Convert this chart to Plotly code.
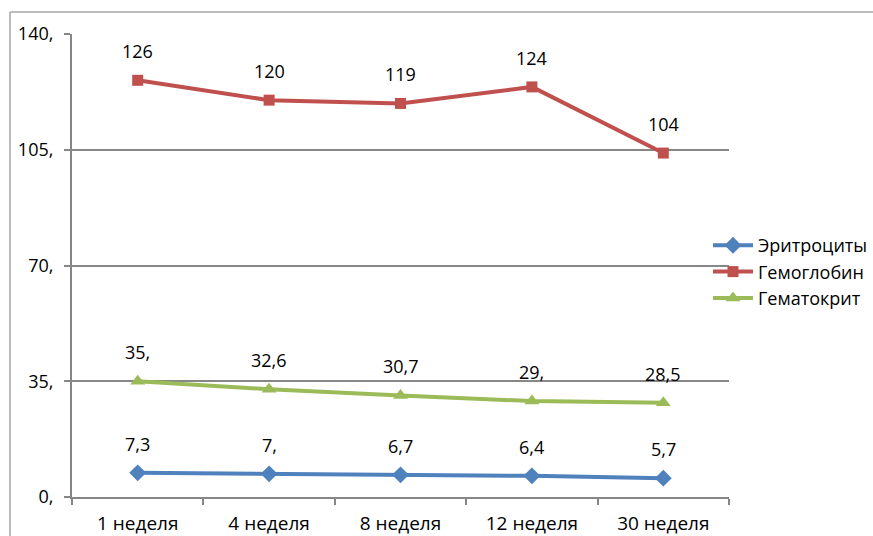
import plotly.graph_objects as go

categories = ["1 неделя", "4 неделя", "8 неделя", "12 неделя", "30 неделя"]
erythro = [7.3, 7.0, 6.7, 6.4, 5.7]
erythro_labels = ["7,3", "7,", "6,7", "6,4", "5,7"]
hemo = [126, 120, 119, 124, 104]
hemo_labels = ["126", "120", "119", "124", "104"]
hemat = [35.0, 32.6, 30.7, 29.0, 28.5]
hemat_labels = ["35,", "32,6", "30,7", "29,", "28,5"]
y_ticks = [0, 35, 70, 105, 140]
y_tick_text = ["0,", "35,", "70,", "105,", "140,"]

FONT = "'Open Sans', sans-serif"
W, H = 873, 536
ML, MR, MT, MB = 72, 144, 34, 39
PW, PH = W - ML - MR, H - MT - MB

series = [
    ("Эритроциты", erythro, erythro_labels, "#4F81BD", "diamond", 13),
    ("Гемоглобин", hemo, hemo_labels, "#C0504D", "square", 11),
    ("Гематокрит", hemat, hemat_labels, "#9BBB59", "triangle-up", 13),
]

fig = go.Figure()
annotations = []
for name, vals, labels, color, sym, size in series:
    fig.add_trace(go.Scatter(
        x=categories, y=vals, name=name, mode="lines+markers",
        line=dict(color=color, width=4),
        marker=dict(symbol=sym, size=size, color=color),
    ))
    for c, v, t in zip(categories, vals, labels):
        annotations.append(dict(x=c, y=v, text=t, showarrow=False, yshift=29,
                                font=dict(family=FONT, size=18, color="#000")))

shapes = [
    dict(type="line", xref="paper", yref="paper",
         x0=(10 - ML) / PW, x1=1.3, y0=1 + (MT - 12) / PH, y1=1 + (MT - 12) / PH,
         line=dict(color="#A6A6A6", width=1.5)),
    dict(type="line", xref="paper", yref="paper",
         x0=(10 - ML) / PW, x1=(10 - ML) / PW, y0=1 + (MT - 12) / PH, y1=-0.2,
         line=dict(color="#A6A6A6", width=1.5)),
]

fig.update_layout(
    width=W, height=H,
    margin=dict(l=ML, r=MR, t=MT, b=MB, autoexpand=False),
    paper_bgcolor="white", plot_bgcolor="white",
    font=dict(family=FONT, size=18, color="#000"),
    annotations=annotations, shapes=shapes,
    showlegend=True,
    legend=dict(x=(708 - ML) / PW, xanchor="left", y=(497 - 272) / PH, yanchor="middle",
                font=dict(family=FONT, size=18, color="#000"),
                tracegroupgap=0, itemwidth=40, bgcolor="rgba(0,0,0,0)"),
    xaxis=dict(type="category", showgrid=False, showline=True, linecolor="#868686", linewidth=2,
               ticks="outside", ticklen=6, tickcolor="#868686", tickwidth=2,
               tickson="boundaries", range=[-0.5, 4.5], tickfont=dict(size=19), zeroline=False,
               ticklabelstandoff=8, automargin=False),
    yaxis=dict(range=[0, 140], tickvals=y_ticks, ticktext=y_tick_text,
               showgrid=True, gridcolor="#878787", gridwidth=2,
               showline=True, linecolor="#868686", linewidth=2,
               ticks="outside", ticklen=6, tickcolor="#868686", tickwidth=2,
               ticklabelstandoff=7, automargin=False,
               tickfont=dict(size=18), zeroline=False),
)

fig.write_html("out.html")
